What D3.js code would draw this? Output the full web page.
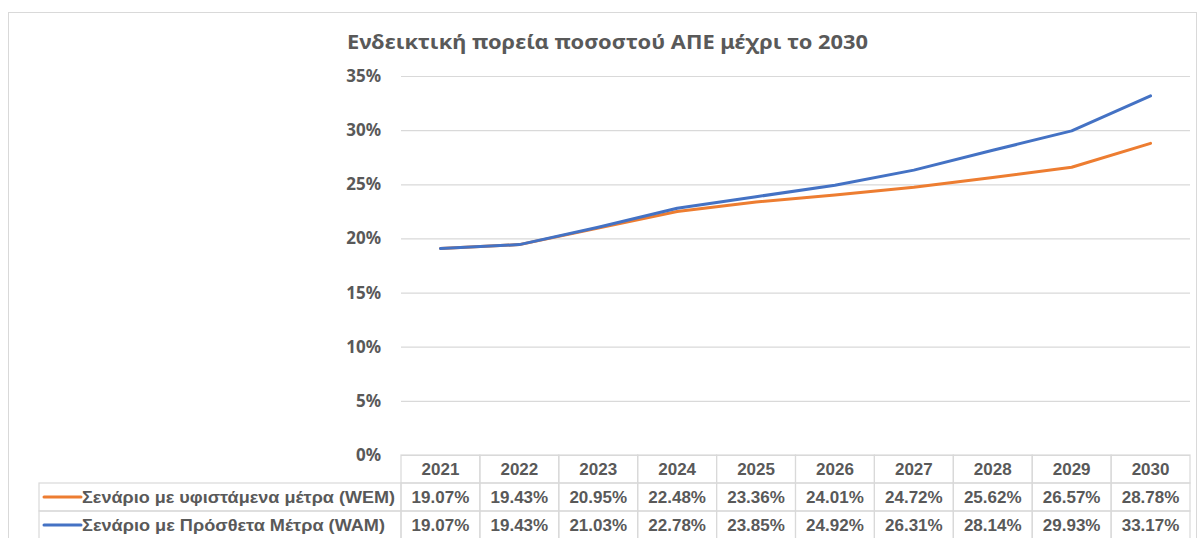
<!DOCTYPE html>
<html>
<head>
<meta charset="utf-8">
<script src="https://cdn.jsdelivr.net/npm/d3@7"></script>
<style>
  body { margin: 0; background: #fff; }
  svg { display: block; }
</style>
</head>
<body>
<div id="chart"></div>
<script>
const width = 1201;
const height = 538;

const years = ["2021", "2022", "2023", "2024", "2025", "2026", "2027", "2028", "2029", "2030"];
const wem = [19.07, 19.43, 20.95, 22.48, 23.36, 24.01, 24.72, 25.62, 26.57, 28.78];
const wam = [19.07, 19.43, 21.03, 22.78, 23.85, 24.92, 26.31, 28.14, 29.93, 33.17];
const seriesNames = ["Σενάριο με υφιστάμενα μέτρα (WEM)", "Σενάριο με Πρόσθετα Μέτρα (WAM)"];
const seriesColors = ["#ED7D31", "#4472C4"];
const yTicks = [0, 5, 10, 15, 20, 25, 30, 35];
const title = "Ενδεικτική πορεία ποσοστού  ΑΠΕ μέχρι το 2030";

let plot = { left: 401, right: 1190, top: 76, bottom: 455 };
let rowH = 28;
let labelLeft = 39;

const svg = d3.select("#chart").append("svg")
    .attr("width", width)
    .attr("height", height);

// chart border
svg.append("rect")
    .attr("x", 8.5).attr("y", 12.5)
    .attr("width", 1188).attr("height", 540)
    .attr("fill", "none")
    .attr("stroke", "#d9d9d9");

// title
svg.append("text")
    .attr("x", 347)
    .attr("y", 49)
    .attr("textLength", 521)
    .attr("lengthAdjust", "spacingAndGlyphs")
    .attr("font-family", "'Noto Sans', 'Open Sans', sans-serif")
    .attr("font-weight", "bold")
    .attr("font-size", "19px")
    .attr("fill", "#595959")
    .text(title);

const x = d3.scaleBand()
    .domain(years)
    .range([plot.left, plot.right])
    .padding(0);

const y = d3.scaleLinear()
    .domain([0, 35])
    .range([plot.bottom, plot.top]);

// gridlines + y labels
const yAxis = svg.append("g")
    .attr("transform", `translate(${plot.left},0)`)
    .call(d3.axisLeft(y)
        .tickValues(yTicks)
        .tickSize(-(plot.right - plot.left))
        .tickPadding(20)
        .tickFormat(d => d + "%"));
yAxis.select(".domain").remove();
yAxis.selectAll("line")
    .attr("stroke", "#d9d9d9")
    .attr("stroke-width", 1.2);
yAxis.selectAll("text")
    .attr("font-family", "'Noto Sans', 'Open Sans', sans-serif")
    .attr("font-weight", "bold")
    .attr("font-size", "17px")
    .attr("fill", "#595959");

// lines
const line = d3.line()
    .x((d, i) => x(years[i]) + x.bandwidth() / 2)
    .y(d => y(d));

[wem, wam].forEach((vals, k) => {
    svg.append("path")
        .datum(vals)
        .attr("fill", "none")
        .attr("stroke", seriesColors[k])
        .attr("stroke-width", 3)
        .attr("stroke-linecap", "round")
        .attr("stroke-linejoin", "round")
        .attr("d", line);
});

// data table
const tbl = svg.append("g");
const cellStroke = "#d9d9d9";
const tableFont = "'Liberation Sans', Arial, sans-serif";

// header row
years.forEach(yr => {
    tbl.append("rect")
        .attr("x", x(yr)).attr("y", plot.bottom)
        .attr("width", x.bandwidth()).attr("height", rowH)
        .attr("fill", "none").attr("stroke", cellStroke).attr("stroke-width", 1.2);
    tbl.append("text")
        .attr("x", x(yr) + x.bandwidth() / 2)
        .attr("y", plot.bottom + rowH / 2 + 6)
        .attr("text-anchor", "middle")
        .attr("font-family", tableFont)
        .attr("font-weight", "bold")
        .attr("font-size", "17px")
        .attr("fill", "#595959")
        .text(yr);
});

[wem, wam].forEach((vals, k) => {
    const top = plot.bottom + rowH * (k + 1);
    tbl.append("rect")
        .attr("x", labelLeft).attr("y", top)
        .attr("width", plot.left - labelLeft).attr("height", rowH)
        .attr("fill", "none").attr("stroke", cellStroke).attr("stroke-width", 1.2);
    tbl.append("line")
        .attr("x1", 44).attr("x2", 81)
        .attr("y1", top + rowH / 2).attr("y2", top + rowH / 2)
        .attr("stroke", seriesColors[k])
        .attr("stroke-width", 3)
        .attr("stroke-linecap", "round");
    tbl.append("text")
        .attr("x", 82)
        .attr("y", top + rowH / 2 + 6)
        .attr("textLength", k === 0 ? 313 : 303)
        .attr("lengthAdjust", "spacingAndGlyphs")
        .attr("font-family", tableFont)
        .attr("font-weight", "bold")
        .attr("font-size", "17px")
        .attr("fill", "#595959")
        .text(seriesNames[k]);
    vals.forEach((v, i) => {
        const yr = years[i];
        tbl.append("rect")
            .attr("x", x(yr)).attr("y", top)
            .attr("width", x.bandwidth()).attr("height", rowH)
            .attr("fill", "none").attr("stroke", cellStroke).attr("stroke-width", 1.2);
        tbl.append("text")
            .attr("x", x(yr) + x.bandwidth() / 2)
            .attr("y", top + rowH / 2 + 6)
            .attr("text-anchor", "middle")
            .attr("font-family", tableFont)
            .attr("font-weight", "bold")
            .attr("font-size", "17px")
            .attr("fill", "#595959")
            .text(v.toFixed(2) + "%");
    });
});
</script>
</body>
</html>
